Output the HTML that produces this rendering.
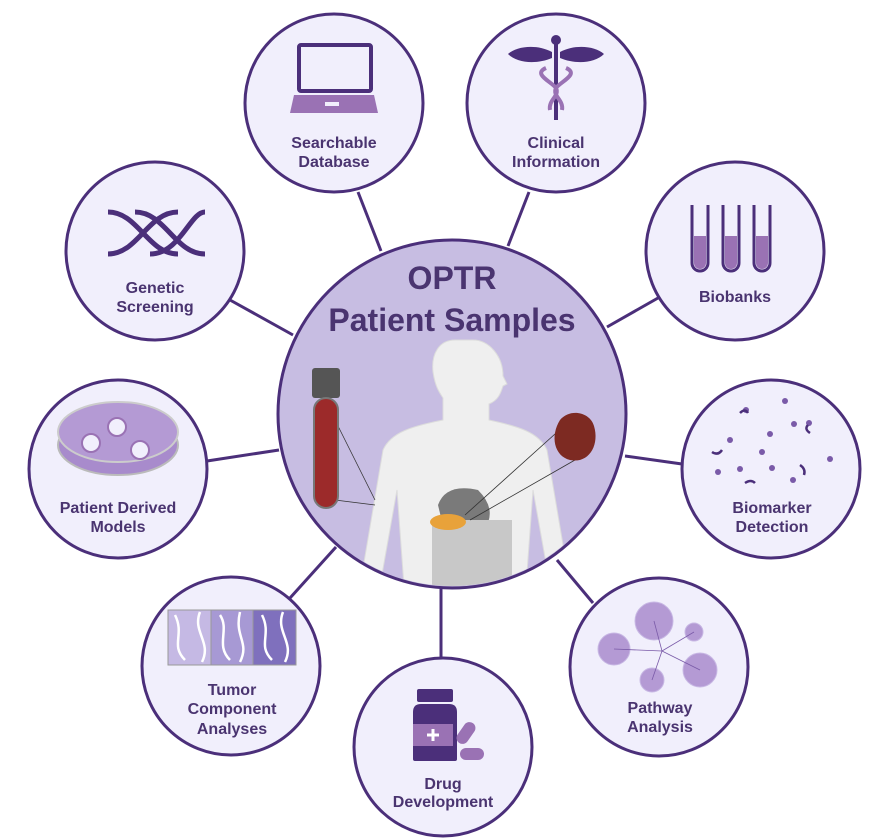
<!DOCTYPE html>
<html><head><meta charset="utf-8"><style>
html,body{margin:0;padding:0;background:#fff;}
svg{display:block;}
text{font-family:"Liberation Sans",sans-serif;font-weight:bold;fill:#4a3470;text-anchor:middle;}
</style></head><body>
<svg width="885" height="839" viewBox="0 0 885 839" xmlns="http://www.w3.org/2000/svg">
<defs><clipPath id="cc"><circle cx="452" cy="414" r="172"/></clipPath></defs>
<g stroke="#4b2f7a" stroke-width="3">
<line x1="358" y1="192" x2="381" y2="251"/>
<line x1="529" y1="192" x2="508" y2="246"/>
<line x1="230" y1="300" x2="293" y2="335"/>
<line x1="658" y1="298" x2="607" y2="327"/>
<line x1="207" y1="461" x2="279" y2="450"/>
<line x1="625" y1="456" x2="682" y2="464"/>
<line x1="290" y1="598" x2="336" y2="547"/>
<line x1="441" y1="589" x2="441" y2="657"/>
<line x1="557" y1="560" x2="593" y2="603"/>
</g>
<!-- center -->
<circle cx="452" cy="414" r="174" fill="#c7bde2" stroke="#4b2f7a" stroke-width="3"/>
<text x="452" y="289" font-size="32">OPTR</text>
<text x="452" y="331" font-size="32">Patient Samples</text>
<g clip-path="url(#cc)">
<path d="M455 340 c-16 0 -24 14 -22 32 c2 14 6 20 10 26 l0 22 c-30 6 -52 12 -60 30 l-22 130 l20 0 l16 -90 l8 110 l120 0 l8 -110 l16 90 l20 0 l-22 -130 c-8 -18 -30 -24 -58 -30 l0 -16 c10 -4 12 -12 14 -18 l4 -2 l-4 -8 c0 -20 -14 -36 -30 -36z" fill="#efefef" stroke="#dcdcdc"/>
<path d="M438 505 q8 -22 40 -15 q20 20 6 40 l-40 0z" fill="#7a7a7a"/>
<path d="M432 520 l80 0 l0 80 l-80 0z" fill="#c8c8c8"/>
<ellipse cx="448" cy="522" rx="18" ry="8" fill="#e8a23a"/>
</g>
<g stroke="#333" stroke-width="0.8"><line x1="335" y1="420" x2="375" y2="500"/><line x1="335" y1="500" x2="375" y2="505"/><line x1="565" y1="425" x2="465" y2="515"/><line x1="575" y1="460" x2="470" y2="520"/></g>
<rect x="312" y="368" width="28" height="30" rx="3" fill="#555"/>
<rect x="314" y="398" width="24" height="110" rx="12" fill="#9c2a2a" stroke="#777" stroke-width="2"/>
<path d="M560 420 c10 -12 30 -8 34 6 c6 20 -6 38 -24 34 c-16 -4 -20 -24 -10 -40z" fill="#7d2a22"/>
<!-- satellites -->
<g fill="#f1effc" stroke="#4b2f7a" stroke-width="3">
<circle cx="334" cy="103" r="89"/>
<circle cx="556" cy="103" r="89"/>
<circle cx="155" cy="251" r="89"/>
<circle cx="735" cy="251" r="89"/>
<circle cx="118" cy="469" r="89"/>
<circle cx="771" cy="469" r="89"/>
<circle cx="231" cy="666" r="89"/>
<circle cx="443" cy="747" r="89"/>
<circle cx="659" cy="667" r="89"/>
</g>
<!-- icons -->
<rect x="299" y="45" width="72" height="46" fill="none" stroke="#4b2f7a" stroke-width="4" rx="2"/>
<path d="M294 95 l80 0 l4 18 l-88 0z" fill="#9a72b4"/>
<rect x="325" y="102" width="14" height="4" fill="#f1effc"/>
<rect x="554" y="38" width="4" height="82" fill="#4b2f7a"/>
<circle cx="556" cy="40" r="5" fill="#4b2f7a"/>
<path d="M552 52 c-15 -8 -35 -6 -44 2 c10 10 30 10 44 4z M560 52 c15 -8 35 -6 44 2 c-10 10 -30 10 -44 4z" fill="#4b2f7a"/>
<path d="M546 68 c-14 6 6 14 10 20 c4 8 -8 12 -6 22 M566 68 c14 6 -6 14 -10 20 c-4 8 8 12 6 22" fill="none" stroke="#9a72b4" stroke-width="4"/>
<path d="M108 212 c30 0 40 42 70 42 M135 212 c30 0 40 42 70 42 M108 254 c30 0 40 -42 70 -42 M150 254 c30 0 40 -42 55 -42" fill="none" stroke="#4b2f7a" stroke-width="5"/>
<g fill="none" stroke="#4b2f7a" stroke-width="3"><path d="M692 205 l0 58 a8 8 0 0 0 16 0 l0 -58"/><path d="M723 205 l0 58 a8 8 0 0 0 16 0 l0 -58"/><path d="M754 205 l0 58 a8 8 0 0 0 16 0 l0 -58"/></g>
<g fill="#9a72b4"><path d="M694 236 l12 0 l0 27 a6 6 0 0 1 -12 0z"/><path d="M725 236 l12 0 l0 27 a6 6 0 0 1 -12 0z"/><path d="M756 236 l12 0 l0 27 a6 6 0 0 1 -12 0z"/></g>
<ellipse cx="118" cy="445" rx="60" ry="30" fill="#a88bcc" stroke="#bbb" stroke-width="2"/>
<ellipse cx="118" cy="432" rx="60" ry="30" fill="#b49ad4" stroke="#ccc" stroke-width="2"/>
<g fill="#f1effc" stroke="#9a72b4" stroke-width="2"><circle cx="117" cy="427" r="9"/><circle cx="91" cy="443" r="9"/><circle cx="140" cy="450" r="9"/></g>
<g fill="#7a5aa8"><circle cx="746" cy="410" r="3"/><circle cx="770" cy="434" r="3"/><circle cx="730" cy="440" r="3"/><circle cx="794" cy="424" r="3"/><circle cx="762" cy="452" r="3"/><circle cx="740" cy="469" r="3"/><circle cx="772" cy="468" r="3"/><circle cx="793" cy="480" r="3"/><circle cx="830" cy="459" r="3"/><circle cx="785" cy="401" r="3"/><circle cx="718" cy="472" r="3"/><circle cx="809" cy="423" r="3"/></g>
<g fill="none" stroke="#4b2f7a" stroke-width="2.5"><path d="M740 413 q5 -5 8 0"/><path d="M712 452 q6 4 10 -2"/><path d="M810 433 q-6 -4 -2 -8"/><path d="M800 465 q6 4 4 10"/><path d="M745 483 q6 -4 10 0"/></g>
<rect x="168" y="610" width="128" height="55" fill="#c5b9e4" stroke="#999"/>
<rect x="211" y="610" width="42" height="55" fill="#a799d4" stroke="#999"/>
<rect x="253" y="610" width="43" height="55" fill="#7f70bd" stroke="#999"/>
<path d="M175 615 c10 20 -5 30 10 45 M200 612 c-8 20 12 30 2 50 M220 615 c10 15 -5 30 10 45 M240 612 c-6 25 10 30 0 50 M262 615 c10 20 -5 30 10 45 M283 612 c-8 20 12 30 2 50" fill="none" stroke="#fff" stroke-width="2.5"/>
<rect x="417" y="689" width="36" height="13" rx="2" fill="#4b2f7a"/>
<path d="M413 712 q0 -8 8 -8 l28 0 q8 0 8 8 l0 47 q0 2 -2 2 l-40 0 q-2 0 -2 -2z" fill="#4b2f7a"/>
<rect x="413" y="724" width="40" height="22" fill="#9a72b4"/>
<path d="M433 729 l0 12 M427 735 l12 0" stroke="#fff" stroke-width="3"/>
<rect x="460" y="721" width="12" height="24" rx="6" transform="rotate(35 466 733)" fill="#9a72b4"/>
<rect x="460" y="748" width="24" height="12" rx="6" fill="#9a72b4"/>
<g fill="#b49ad4" stroke="#c8b8e4"><circle cx="654" cy="621" r="19"/><circle cx="614" cy="649" r="16"/><circle cx="694" cy="632" r="9"/><circle cx="700" cy="670" r="17"/><circle cx="652" cy="680" r="12"/></g>
<g stroke="#7a5aa8" stroke-width="0.8"><line x1="662" y1="651" x2="654" y2="621"/><line x1="662" y1="651" x2="614" y2="649"/><line x1="662" y1="651" x2="694" y2="632"/><line x1="662" y1="651" x2="700" y2="670"/><line x1="662" y1="651" x2="652" y2="680"/></g>
<!-- labels -->
<g font-size="16">
<text x="334" y="148">Searchable</text><text x="334" y="167">Database</text>
<text x="556" y="148">Clinical</text><text x="556" y="167">Information</text>
<text x="155" y="293">Genetic</text><text x="155" y="312">Screening</text>
<text x="735" y="302">Biobanks</text>
<text x="118" y="513">Patient Derived</text><text x="118" y="532">Models</text>
<text x="772" y="513">Biomarker</text><text x="772" y="532">Detection</text>
<text x="232" y="695">Tumor</text><text x="232" y="714">Component</text><text x="232" y="734">Analyses</text>
<text x="443" y="789">Drug</text><text x="443" y="807">Development</text>
<text x="660" y="713">Pathway</text><text x="660" y="732">Analysis</text>
</g>
</svg>
</body></html>
